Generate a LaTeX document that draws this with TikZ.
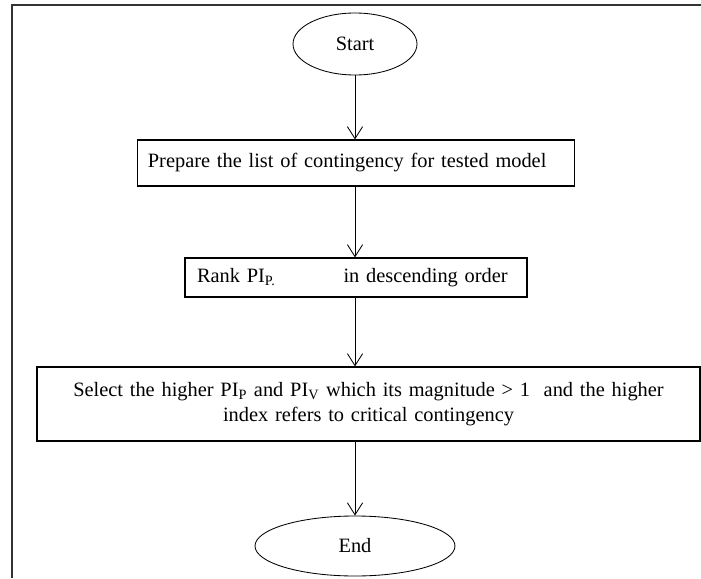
\documentclass[tikz,border=0pt]{standalone}
\usepackage{fontspec}
\setmainfont{Liberation Serif}
\usetikzlibrary{shapes.geometric,arrows.meta}

\begin{document}
\begin{tikzpicture}[
    terminal/.style={draw, ellipse, line width=0.6pt},
    process/.style={draw, rectangle, line width=0.8pt},
    flow/.style={-{Straight Barb[length=3mm,width=3.8mm]}, line width=0.6pt},
    font=\fontsize{14.5}{17}\selectfont
  ]
    \useasboundingbox (0,0) rectangle (17.525,14.45);

    % Frame
    \draw[line width=0.9pt, black!80] (0.3,0) -- (0.3,14.325) -- (17.525,14.325);

    % Start and end
    \node[terminal, minimum width=3.1cm, minimum height=1.55cm] (start) at (8.875,13.35) {Start};
    \node[terminal, minimum width=5cm, minimum height=1.5cm] (end) at (8.875,0.8) {End};

    % Steps
    \node[process, minimum width=10.925cm, minimum height=1.15cm, text width=10.425cm,
          inner xsep=0.25cm, align=left] (list) at (8.91,10.375)
        {Prepare the list of contingency for tested model};
    \node[process, minimum width=8.55cm, minimum height=0.975cm, text width=7.95cm,
          inner xsep=0.3cm, align=left] (rank) at (8.9,7.5125)
        {Rank PI\textsubscript{P.}\hspace{1.7cm}in descending order};
    \node[process, minimum width=16.575cm, minimum height=1.85cm, text width=16cm,
          align=center] (select) at (9.2125,4.35)
        {Select the higher PI\textsubscript{P} and PI\textsubscript{V} which its magnitude {>} 1\ \ and the higher\\[1pt]
         index refers to critical contingency};

    % Arrows (kept vertical under the start node)
    \draw[flow] (start) -- (start |- list.north);
    \draw[flow] (start |- list.south) -- (start |- rank.north);
    \draw[flow] (start |- rank.south) -- (start |- select.north);
    \draw[flow] (start |- select.south) -- (end);

\end{tikzpicture}
\end{document}
